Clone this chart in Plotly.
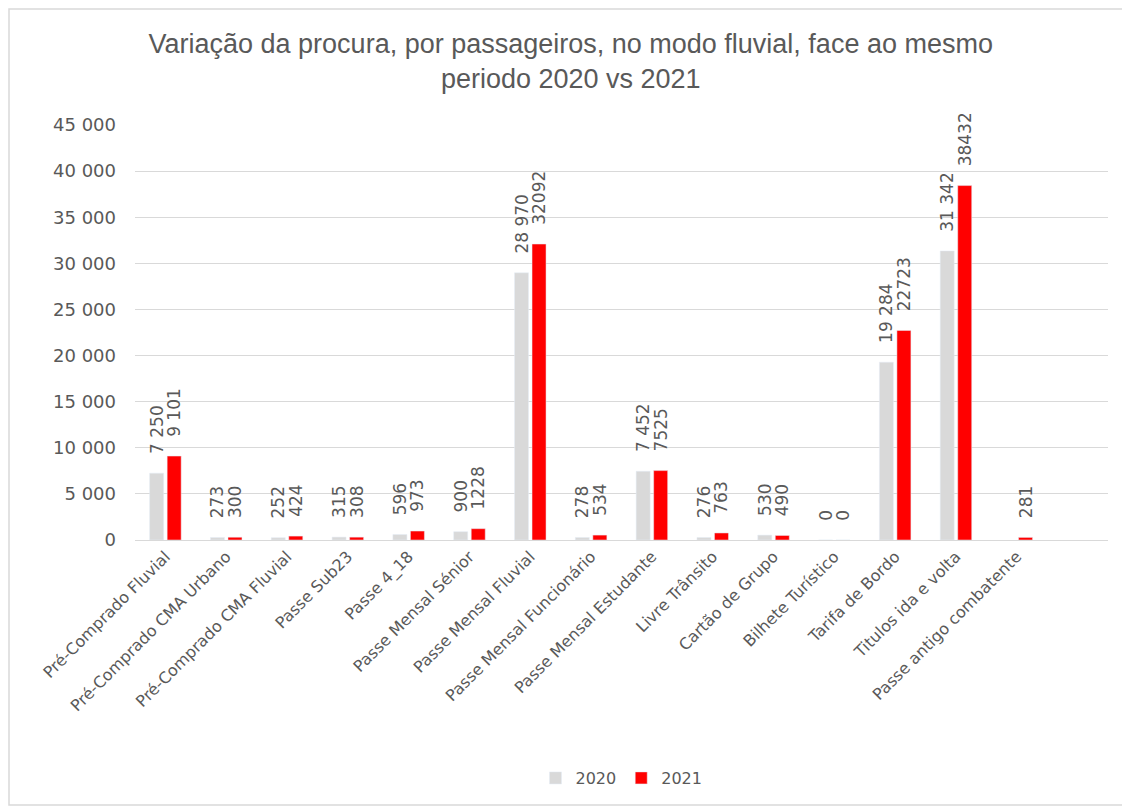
import plotly.graph_objects as go

# Data (the last, unnamed category is empty in the source)
categories = [
    "Pré-Comprado Fluvial", "Pré-Comprado CMA Urbano", "Pré-Comprado CMA Fluvial",
    "Passe Sub23", "Passe 4_18", "Passe Mensal Sénior", "Passe Mensal Fluvial",
    "Passe Mensal Funcionário", "Passe Mensal Estudante", "Livre Trânsito",
    "Cartão de Grupo", "Bilhete Turístico", "Tarifa de Bordo", "Titulos ida e volta",
    "Passe antigo combatente", " ",
]
values_2020 = [7250, 273, 252, 315, 596, 900, 28970, 278, 7452, 276, 530, 0, 19284, 31342, None, None]
values_2021 = [9101, 300, 424, 308, 973, 1228, 32092, 534, 7525, 763, 490, 0, 22723, 38432, 281, None]
labels_2020 = ["7 250", "273", "252", "315", "596", "900", "28 970", "278", "7 452", "276",
               "530", "0", "19 284", "31 342", "", ""]
labels_2021 = ["9 101", "300", "424", "308", "973", "1228", "32092", "534", "7525", "763",
               "490", "0", "22723", "38432", "281", ""]
y_ticks = [0, 5000, 10000, 15000, 20000, 25000, 30000, 35000, 40000, 45000]

_TEXT = "#595959"
_GRID = "#d9d9d9"
_FONT = "DejaVu Sans, sans-serif"
# non-breaking spaces push the rotated labels a bit further above the bars
_LABEL_TEMPLATE = "\u00a0\u00a0\u00a0%{text}"

fig = go.Figure()
fig.add_trace(go.Bar(
    x=categories, y=values_2020, name="2020",
    marker={"color": "#d9d9d9"},
    text=labels_2020, texttemplate=_LABEL_TEMPLATE, textposition="outside", textangle=-90,
    textfont={"size": 17, "color": _TEXT}, cliponaxis=False,
))
fig.add_trace(go.Bar(
    x=categories, y=values_2021, name="2021",
    marker={"color": "#ff0000"},
    text=labels_2021, texttemplate=_LABEL_TEMPLATE, textposition="outside", textangle=-90,
    textfont={"size": 17, "color": _TEXT}, cliponaxis=False,
))

fig.update_layout(
    width=1130, height=809,
    separators=", ",
    barmode="group", bargap=0.424, bargroupgap=0.2,
    uniformtext={"minsize": 17, "mode": "show"},
    paper_bgcolor="white", plot_bgcolor="white",
    font={"family": _FONT, "color": _TEXT},
    title={
        "text": "Variação da procura, por passageiros, no modo fluvial, face ao mesmo<br>periodo 2020 vs 2021",
        "font": {"family": "Liberation Sans Narrow, Liberation Sans, sans-serif", "size": 27, "color": _TEXT},
        "x": 0.498, "xanchor": "center", "y": 0.944, "yanchor": "middle",
    },
    margin={"t": 117, "b": 277, "l": 127, "r": 30},
    legend={
        "orientation": "h", "x": 0.5, "xanchor": "center", "y": -0.5735, "yanchor": "middle",
        "font": {"size": 16, "color": _TEXT}, "traceorder": "normal",
    },
    xaxis={
        "tickangle": -45, "tickfont": {"size": 16, "color": _TEXT},
        "showline": True, "linecolor": _GRID, "linewidth": 1, "ticks": "",
    },
    yaxis={
        "range": [0, 45000], "tickvals": y_ticks, "tickformat": ",d",
        "gridcolor": _GRID, "gridwidth": 1, "zeroline": False,
        "tickfont": {"size": 18, "color": _TEXT}, "ticklen": 0, "ticklabelstandoff": 18,
    },
)

# outer chart frame
fig.add_shape(
    type="rect", xref="paper", yref="paper",
    x0=-0.1295, x1=1.0175, y0=-0.6386, y1=1.2795,
    line={"color": "#d9d9d9", "width": 1.5}, fillcolor="rgba(0,0,0,0)", layer="below",
)

fig.write_html("out.html")
